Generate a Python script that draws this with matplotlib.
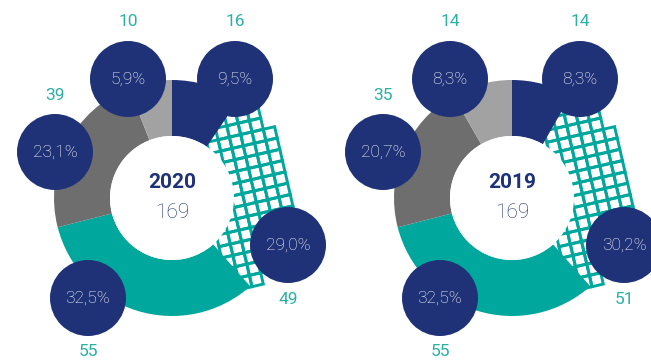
import numpy as np
import matplotlib
matplotlib.use("Agg")
import matplotlib.pyplot as plt
from matplotlib.patches import Wedge, Circle, Polygon

# segment counts, clockwise from 12 o'clock
years = ["2020", "2019"]
counts_2020 = [16, 49, 55, 39, 10]
counts_2019 = [14, 51, 55, 35, 14]
segment_styles = ["navy", "hatch", "teal", "dark", "light"]

NAVY = "#1f3278"
TEAL = "#00a79d"
LABEL_TEAL = "#2bb0a4"
DARK_GREY = "#6e6e6e"
LIGHT_GREY = "#a2a2a2"
FILLS = {"navy": NAVY, "teal": TEAL, "dark": DARK_GREY, "light": LIGHT_GREY}

R_OUT = 118
R_IN = 62
BUBBLE_R = 38
HATCH_STEP = 11.6
HATCH_ROT = 13.0

# bubble offsets from the donut centre (px, y up), one per segment
bubble_offsets = {
    "2020": [(63, 119), (116, -47), (-84, -100), (-117, 46), (-44, 119)],
    "2019": [(68, 119), (112, -47), (-72, -100), (-129, 46), (-62, 119)],
}
label_below = [False, True, True, False, False]

plt.rcParams["font.family"] = ["Roboto", "DejaVu Sans"]


def fmt_pct(v, total):
    return f"{100 * v / total:.1f}%".replace(".", ",")


def draw_hatch(ax, cx, cy, a0, a1):
    # a0/a1 clockwise degrees from top; draw whole grid cells that fall in the ring
    rot = np.deg2rad(HATCH_ROT)
    ux = np.array([np.cos(rot), np.sin(rot)]) * HATCH_STEP
    uy = np.array([-np.sin(rot), np.cos(rot)]) * HATCH_STEP
    n = int(R_OUT / HATCH_STEP) + 3
    for i in range(-n, n):
        for j in range(-n, n):
            c = np.array([cx, cy]) + (i + 0.5) * ux + (j + 0.5) * uy
            dx, dy = c[0] - cx, c[1] - cy
            r = np.hypot(dx, dy)
            ang = np.degrees(np.arctan2(dx, dy)) % 360
            if not (R_IN + 1 < r < R_OUT + 1):
                continue
            if not (a0 - 2 < ang < a1 + 2):
                continue
            p0 = np.array([cx, cy]) + i * ux + j * uy
            pts = [p0, p0 + ux, p0 + ux + uy, p0 + uy]
            ax.add_patch(Polygon(pts, closed=True, fill=False,
                                 edgecolor=TEAL, linewidth=2.1, zorder=1))


def draw_donut(ax, cx, cy, year, counts):
    total = sum(counts)
    start = 0.0
    spans = []
    for v in counts:
        end = start + 360.0 * v / total
        spans.append((start, end))
        start = end

    for (a0, a1), style in zip(spans, segment_styles):
        if style == "hatch":
            draw_hatch(ax, cx, cy, a0, a1)
            continue
        ax.add_patch(Wedge((cx, cy), R_OUT, 90 - a1, 90 - a0,
                           width=R_OUT - R_IN, facecolor=FILLS[style],
                           edgecolor="none", zorder=2))
    ax.add_patch(Circle((cx, cy), R_IN, facecolor="white", edgecolor="none", zorder=3))

    ax.text(cx, cy + 15, year, ha="center", va="center", fontsize=15,
            fontweight="bold", color=NAVY, zorder=5)
    ax.text(cx, cy - 15, str(total), ha="center", va="center", fontsize=15,
            fontweight="light", color=NAVY, zorder=5)

    for v, (dx, dy), below in zip(counts, bubble_offsets[year], label_below):
        bx, by = cx + dx, cy + dy
        ax.add_patch(Circle((bx, by), BUBBLE_R, facecolor=NAVY,
                            edgecolor="none", zorder=4))
        ax.text(bx, by, fmt_pct(v, total), ha="center", va="center",
                fontsize=12.5, fontweight="light", color="white", zorder=5)
        ly = by - 54 if below else by + 57
        ax.text(bx, ly, str(v), ha="center", va="center", fontsize=12.5,
                color=LABEL_TEAL, zorder=5)


fig = plt.figure(figsize=(6.51, 3.62), dpi=100)
ax = fig.add_axes([0, 0, 1, 1])
ax.set_xlim(0, 651)
ax.set_ylim(0, 362)
ax.set_aspect("equal")
ax.axis("off")

draw_donut(ax, 172, 164, years[0], counts_2020)
draw_donut(ax, 512, 164, years[1], counts_2019)

fig.savefig("out.png", dpi=100, facecolor="white")
